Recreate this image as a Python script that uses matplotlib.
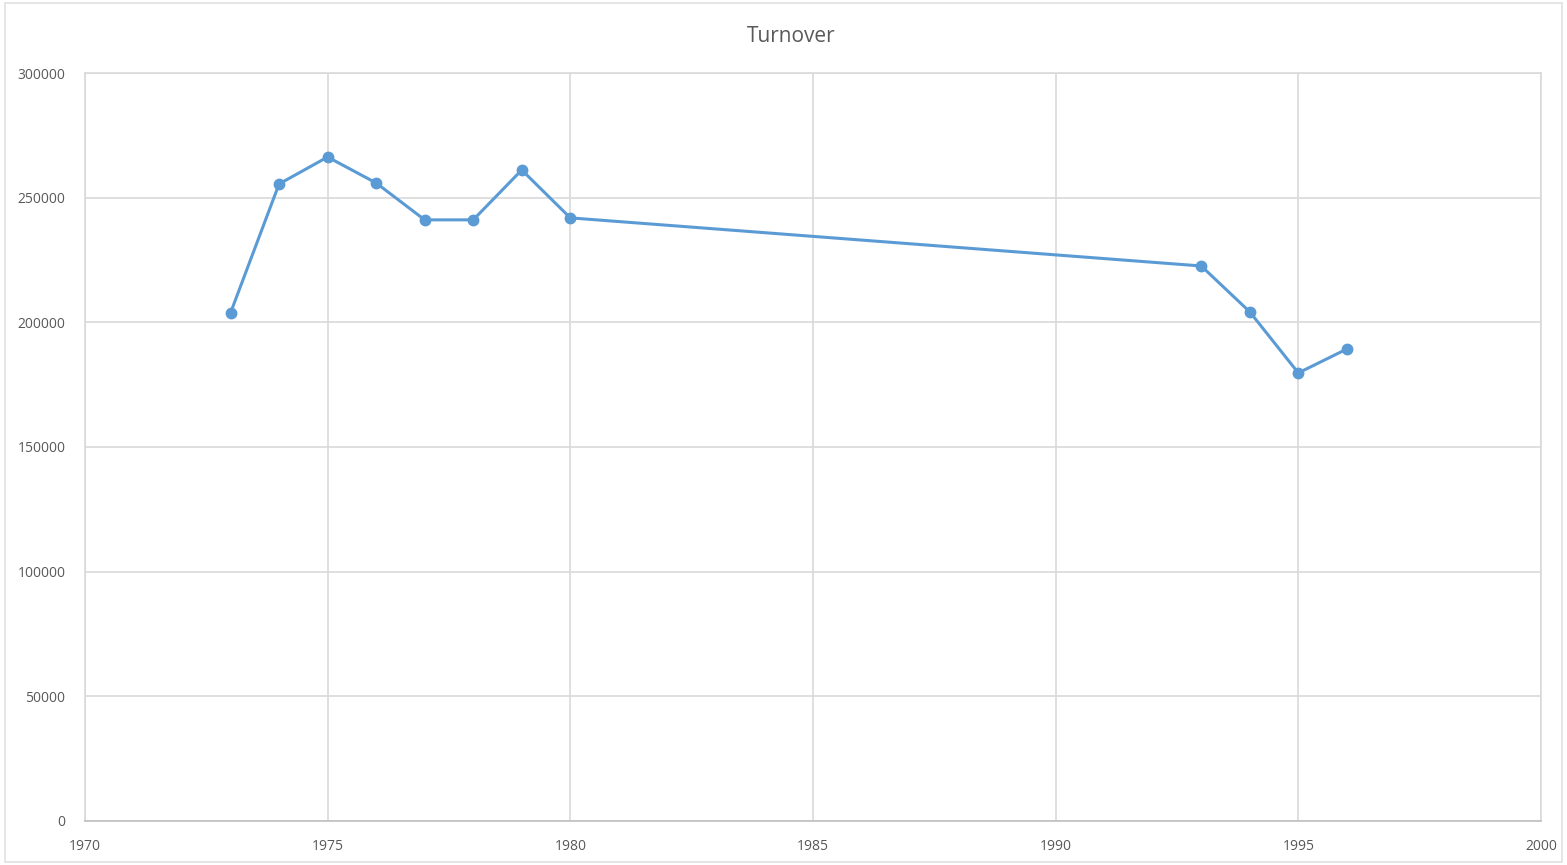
import matplotlib
matplotlib.use("Agg")
import matplotlib.pyplot as plt
from matplotlib.patches import Rectangle

years = [1973, 1974, 1975, 1976, 1977, 1978, 1979, 1980, 1993, 1994, 1995, 1996]
turnover = [203800, 255500, 266300, 255900, 241100, 241100, 261100, 241900,
            222600, 204200, 179700, 189300]
x_ticks = [1970, 1975, 1980, 1985, 1990, 1995, 2000]
y_ticks = [0, 50000, 100000, 150000, 200000, 250000, 300000]

plt.rcParams['font.family'] = ['Open Sans', 'DejaVu Sans']
text_color = '#595959'
grid_color = '#D9D9D9'
line_color = '#5B9BD5'

fig = plt.figure(figsize=(15.67, 8.65), dpi=100)
fig.patches.append(Rectangle((0.003, 0.003), 0.994, 0.994, transform=fig.transFigure,
                             fill=False, edgecolor='#E0E0E0', linewidth=1.2))
ax = fig.add_axes([0.0542, 0.0509, 0.9292, 0.8647])

ax.plot(years, turnover, color=line_color, linewidth=2.2, marker='o',
        markersize=7.5, markerfacecolor=line_color, markeredgecolor=line_color, zorder=3)

ax.set_xlim(1970, 2000)
ax.set_ylim(0, 300000)
ax.set_xticks(x_ticks)
ax.set_yticks(y_ticks)
ax.set_xticklabels([str(v) for v in x_ticks])
ax.set_yticklabels([str(v) for v in y_ticks])
ax.grid(True, color=grid_color, linewidth=1.2)
ax.set_axisbelow(True)
for side in ['top', 'right', 'left']:
    ax.spines[side].set_visible(True)
    ax.spines[side].set_color(grid_color)
    ax.spines[side].set_linewidth(1.2)
ax.spines['bottom'].set_color('#BFBFBF')
ax.spines['bottom'].set_linewidth(1.2)
ax.tick_params(axis='both', length=0, labelsize=10, colors=text_color)
ax.tick_params(axis='y', pad=14)
ax.tick_params(axis='x', pad=13)

fig.text(0.505, 0.958, 'Turnover', ha='center', va='center', fontsize=15, color=text_color)

fig.savefig('out.png', dpi=100)
